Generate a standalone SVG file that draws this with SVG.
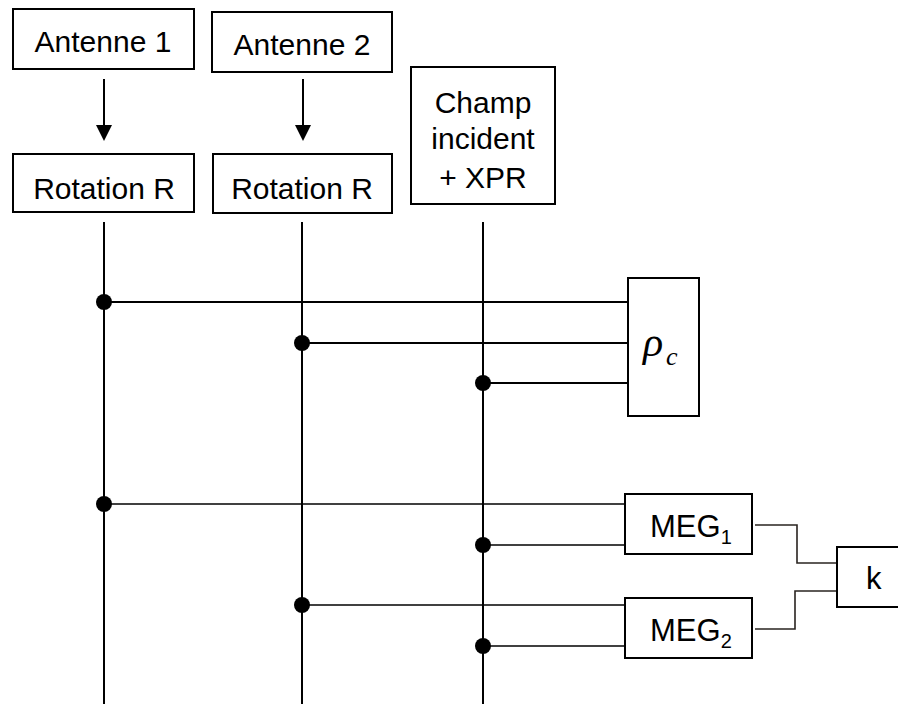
<svg xmlns="http://www.w3.org/2000/svg" width="898" height="704" viewBox="0 0 898 704">
<style>
.box{fill:#fff;stroke:#000;stroke-width:2}
.t{font-family:"Liberation Sans",Arial,sans-serif;font-size:30px;fill:#000;text-anchor:middle}
.w{stroke:#000;stroke-width:2;fill:none}
.w2{stroke:#000;stroke-width:1.6;fill:none}
.o{stroke:#2a2420;stroke-width:1.6;fill:none}
.d{fill:#000}
.m{font-family:"Liberation Sans",Arial,sans-serif;font-size:31px;fill:#000}
</style>
<g id="connectors">
<line class="w" x1="104" y1="79" x2="104" y2="125"/>
<path d="M96,125 L112,125 L104,141 Z" fill="#000"/>
<line class="w" x1="303" y1="79" x2="303" y2="125"/>
<path d="M295,125 L311,125 L303,141 Z" fill="#000"/>
<line class="w" x1="104" y1="222" x2="104" y2="704"/>
<line class="w" x1="302" y1="222" x2="302" y2="704"/>
<line class="w" x1="483" y1="222" x2="483" y2="704"/>
<line class="w" x1="104" y1="302" x2="628" y2="302"/>
<line class="w" x1="302" y1="343" x2="628" y2="343"/>
<line class="w" x1="483" y1="383" x2="628" y2="383"/>
<line class="w2" x1="104" y1="504" x2="627" y2="504"/>
<line class="w2" x1="483" y1="545" x2="627" y2="545"/>
<line class="w2" x1="302" y1="605" x2="627" y2="605"/>
<line class="w2" x1="483" y1="646" x2="627" y2="646"/>
<polyline class="o" points="755,525 797,525 797,563 837,563"/>
<polyline class="o" points="755,629 795,629 795,591 837,591"/>
<circle class="d" cx="104" cy="302" r="8"/>
<circle class="d" cx="302" cy="343" r="8"/>
<circle class="d" cx="483" cy="383" r="8"/>
<circle class="d" cx="104" cy="504" r="8"/>
<circle class="d" cx="483" cy="545" r="8"/>
<circle class="d" cx="302" cy="605" r="8"/>
<circle class="d" cx="483" cy="646" r="8"/>
</g>
<g id="antenne1">
<rect class="box" x="13" y="9" width="181" height="60"/>
<text class="t" x="103" y="52">Antenne 1</text>
</g>
<g id="antenne2">
<rect class="box" x="212" y="12" width="180" height="60"/>
<text class="t" x="302" y="55">Antenne 2</text>
</g>
<g id="rotation1">
<rect class="box" x="13" y="154" width="181" height="58"/>
<text class="t" x="104" y="199">Rotation R</text>
</g>
<g id="rotation2">
<rect class="box" x="213" y="154" width="179" height="59"/>
<text class="t" x="302" y="199">Rotation R</text>
</g>
<g id="champ">
<rect class="box" x="411" y="67" width="144" height="137"/>
<text class="t" x="483" y="113">Champ</text>
<text class="t" x="483" y="149">incident</text>
<text class="t" x="483" y="188">+ XPR</text>
</g>
<g id="rho">
<rect class="box" x="628" y="278" width="71" height="138"/>
<text x="643" y="356" font-family="'Liberation Serif','Times New Roman',serif" font-style="italic" font-size="42">ρ</text>
<text x="666" y="365" font-family="'Liberation Serif','Times New Roman',serif" font-style="italic" font-size="26">c</text>
</g>
<g id="meg1">
<rect class="box" x="625" y="494" width="127" height="60"/>
<text class="m" x="650" y="537">MEG<tspan font-size="20" dy="7">1</tspan></text>
</g>
<g id="meg2">
<rect class="box" x="625" y="598" width="127" height="60"/>
<text class="m" x="650" y="641">MEG<tspan font-size="20" dy="7">2</tspan></text>
</g>
<g id="k">
<rect class="box" x="837" y="547" width="70" height="60"/>
<text x="866" y="589" font-family="'Liberation Sans',Arial,sans-serif" font-size="31">k</text>
</g>
</svg>
